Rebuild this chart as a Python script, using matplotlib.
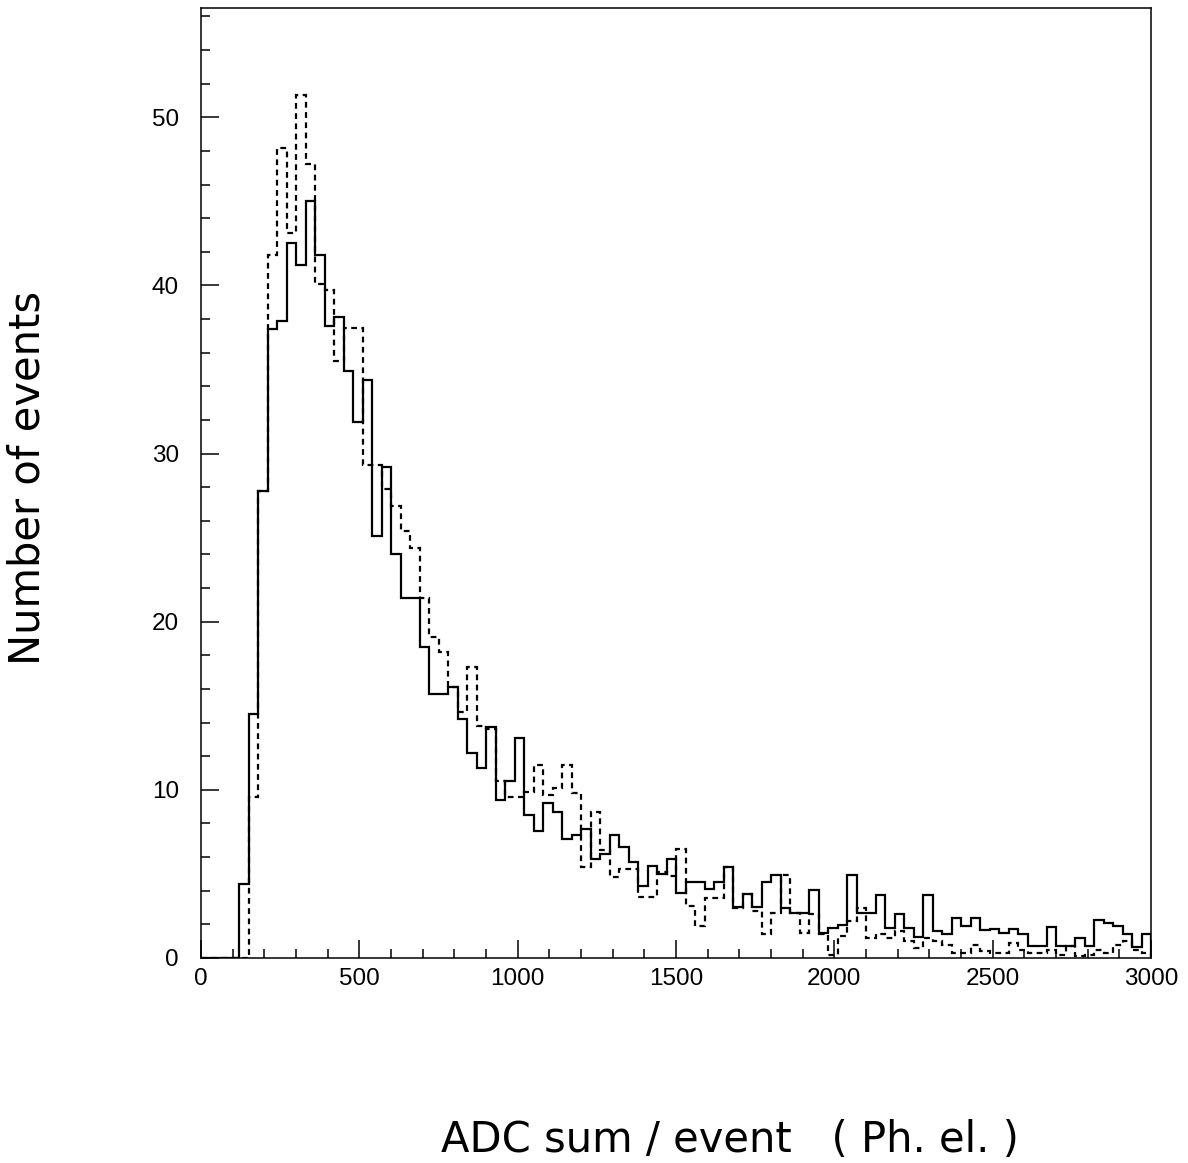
import numpy as np
import matplotlib.pyplot as plt
from matplotlib.ticker import MultipleLocator

# bin edges: 0..3000 in 30-unit bins
bin_edges = np.arange(0, 3001, 30)

# solid histogram (counts per bin)
solid_counts = [
    0, 0, 0, 0, 4.4, 14.5, 27.8, 37.4, 37.9, 42.5,
    41.2, 45.0, 41.8, 37.6, 38.1, 34.9, 31.9, 34.4, 25.1, 29.2,
    24.0, 21.4, 21.4, 18.5, 15.7, 15.7, 16.1, 14.2, 12.2, 11.3,
    13.75, 9.4, 10.5, 13.1, 8.5, 7.55, 9.2, 8.7, 7.1, 7.3,
    7.7, 5.9, 6.2, 7.3, 6.6, 5.7, 4.3, 5.45, 5.0, 5.9,
    3.85, 4.5, 4.5, 4.1, 4.5, 5.4, 3.05, 3.8, 3.05, 4.5,
    4.93, 2.95, 2.7, 2.7, 4.04, 1.5, 1.8, 1.96, 4.93, 2.66,
    2.66, 3.75, 1.76, 2.63, 1.8, 1.23, 3.75, 1.6, 1.4, 2.38,
    1.9, 2.36, 1.65, 1.7, 1.5, 1.7, 1.4, 0.72, 0.72, 1.86,
    0.72, 0.72, 1.17, 0.72, 2.27, 2.1, 1.9, 1.4, 0.65, 1.4,
]

# dashed histogram (counts per bin)
dashed_counts = [
    0, 0, 0, 0, 0, 9.6, 27.8, 41.8, 48.2, 43.1,
    51.3, 47.2, 40.1, 39.75, 35.5, 37.45, 37.45, 29.3, 29.3, 27.9,
    26.9, 25.4, 24.4, 21.4, 19.1, 18.2, 16.1, 14.6, 17.3, 13.8,
    13.6, 10.5, 9.6, 9.6, 9.9, 11.5, 9.7, 10.1, 11.5, 9.8,
    5.4, 8.7, 6.4, 4.8, 5.3, 5.3, 3.65, 3.65, 5.1, 4.9,
    6.5, 3.1, 1.9, 3.55, 3.55, 5.4, 3.0, 3.8, 2.8, 1.4,
    2.65, 4.93, 2.65, 1.47, 2.6, 1.4, 0.2, 1.3, 2.2, 3.0,
    1.2, 1.4, 1.2, 1.6, 1.0, 0.6, 1.2, 1.0, 0.8, 0.3,
    0.3, 0.8, 0.4, 0.3, 0.3, 0.9, 0.5, 0.3, 0.3, 0.5,
    0.2, 0.7, 0.1, 0.2, 0.5, 0.3, 0.8, 1.0, 0.5, 0.3,
]

x_ticks = [0, 500, 1000, 1500, 2000, 2500, 3000]
y_ticks = [0, 10, 20, 30, 40, 50]

fig = plt.figure(figsize=(11.88, 11.63), dpi=100)
ax = fig.add_axes([0.1692, 0.1763, 0.7997, 0.8168])

# histograms as step outlines
ax.stairs(solid_counts, bin_edges, color='black', linewidth=1.6)
ax.stairs(dashed_counts, bin_edges, color='black', linewidth=1.6,
          linestyle=(0, (2.6, 2.0)))

ax.set_xlim(0, 3000)
ax.set_ylim(0, 56.5)
ax.set_xticks(x_ticks)
ax.set_yticks(y_ticks)
ax.xaxis.set_minor_locator(MultipleLocator(100))
ax.yaxis.set_minor_locator(MultipleLocator(2))

ax.tick_params(which='both', direction='in', width=1.1, top=False, right=False)
ax.tick_params(which='major', length=13)
ax.tick_params(which='minor', length=6.3)
ax.tick_params(axis='y', pad=16)
ax.tick_params(axis='x', pad=7)
for lbl in ax.get_xticklabels() + ax.get_yticklabels():
    lbl.set_family('Liberation Sans')
    lbl.set_fontsize(17.5)

for sp in ax.spines.values():
    sp.set_linewidth(1.1)

# axis titles
fig.text(730 / 1188, 1 - 1140 / 1163, 'ADC sum / event   ( Ph. el. )',
         ha='center', va='center', fontsize=30, family='DejaVu Sans')
fig.text(28 / 1188, 1 - 478 / 1163, 'Number of events', rotation=90,
         ha='center', va='center', fontsize=30, family='DejaVu Sans')

fig.savefig('out.png', dpi=100)
